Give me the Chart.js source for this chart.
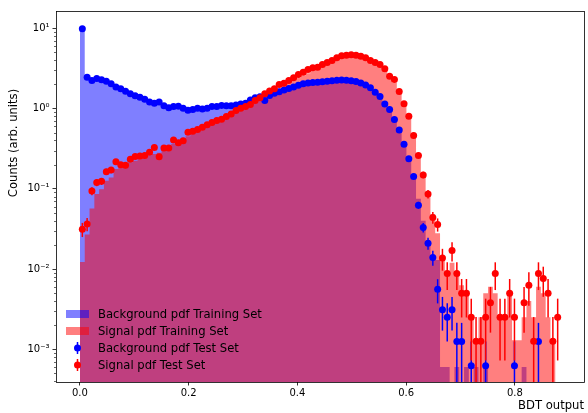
<!DOCTYPE html>
<html>
<head>
<meta charset="utf-8">
<title>BDT output</title>
<script src="https://cdn.jsdelivr.net/npm/chart.js@4/dist/chart.umd.min.js"></script>
<style>
  html, body { margin: 0; padding: 0; background: #ffffff; }
  #wrap { width: 588px; height: 413px; }
</style>
</head>
<body>
<div id="wrap"><canvas id="myChart" width="588" height="413"></canvas></div>
<script>
'use strict'

// *********GLOBAL DATA***********

// histogram binning of the BDT output
const binLow = 0.0;
const binWidth = 0.00883;

// training set histograms (filled steps)
const bkgTrain = [
  9.8, 2.35, 2.25, 2.2, 2.15, 2.05, 1.95, 1.82, 1.72, 1.62,
  1.52, 1.44, 1.36, 1.29, 1.22, 1.17, 1.12, 1.07, 1.03, 1.0,
  0.98, 0.96, 0.94, 0.93, 0.93, 0.94, 0.95, 0.97, 0.99, 1.0,
  1.02, 1.04, 1.06, 1.09, 1.13, 1.18, 1.24, 1.3, 1.37, 1.43,
  1.5, 1.57, 1.64, 1.72, 1.8, 1.88, 1.96, 2.02, 2.07, 2.1,
  2.13, 2.16, 2.19, 2.21, 2.22, 2.21, 2.18, 2.12, 2.03, 1.9,
  1.74, 1.55, 1.34, 1.12, 0.92, 0.72, 0.53, 0.37, 0.24, 0.145,
  0.075, 0.04, 0.022, 0.014, 0.013, 0.0006, 0.0006, 0, 0.0006, 0,
  0.0006, 0, 0.0006, 0, 0.0006, 0, 0, 0, 0, 0,
  0, 0, 0.0006, 0, 0, 0, 0, 0, 0, 0
];

const sigTrain = [
  0.0122, 0.027, 0.057, 0.086, 0.099, 0.126, 0.138, 0.176, 0.185, 0.204,
  0.213, 0.224, 0.246, 0.246, 0.259, 0.271, 0.282, 0.314, 0.326, 0.362,
  0.398, 0.42, 0.45, 0.48, 0.51, 0.55, 0.59, 0.63, 0.67, 0.71,
  0.76, 0.82, 0.88, 0.95, 1.02, 1.1, 1.18, 1.28, 1.4, 1.52,
  1.64, 1.78, 1.92, 2.07, 2.22, 2.4, 2.58, 2.76, 2.95, 3.13,
  3.33, 3.55, 3.78, 4.0, 4.25, 4.42, 4.5, 4.5, 4.4, 4.2,
  3.95, 3.7, 3.4, 3.0, 2.55, 2.1, 1.62, 1.15, 0.78, 0.48,
  0.27, 0.155, 0.085, 0.048, 0.028, 0.013, 0.0095, 0.012, 0.009, 0.0063,
  0.005, 0.0025, 0.0013, 0.0025, 0.005, 0.006, 0.005, 0.0025, 0.0025, 0.005,
  0.0013, 0.0013, 0.0025, 0.004, 0.0025, 0.006, 0.005, 0.0025, 0.0013, 0
];

// test set points (bin centres)
const bkgTest = [
  9.9, 2.46, 2.24, 2.37, 2.28, 2.19, 2.04, 1.85, 1.76, 1.64,
  1.53, 1.44, 1.38, 1.31, 1.21, 1.16, 1.21, 1.08, 1.02, 1.06,
  1.07, 1.01, 0.95, 0.97, 1.01, 0.99, 1.01, 1.06, 1.06, 1.09,
  1.08, 1.08, 1.11, 1.14, 1.16, 1.28, 1.36, 1.4, 1.26, 1.45,
  1.55, 1.62, 1.7, 1.78, 1.86, 1.95, 2.03, 2.08, 2.11, 2.12,
  2.15, 2.19, 2.22, 2.25, 2.27, 2.25, 2.22, 2.17, 2.08, 1.97,
  1.82, 1.6, 1.41, 1.14, 0.97, 0.73, 0.54, 0.36, 0.237, 0.142,
  0.0625, 0.033, 0.021, 0.0139, 0.0056, 0.0031, 0.0025, 0.0031, 0.00125, 0.00125,
  0, 0.000625, 0, 0, 0.000625, 0, 0, 0, 0, 0,
  0.000625, 0, 0, 0, 0, 0.00125, 0, 0, 0, 0
];

const sigTest = [
  0.0313, 0.0364, 0.094, 0.12, 0.124, 0.163, 0.171, 0.218, 0.2, 0.196,
  0.233, 0.253, 0.256, 0.259, 0.285, 0.328, 0.251, 0.323, 0.323, 0.406,
  0.376, 0.398, 0.505, 0.52, 0.547, 0.584, 0.63, 0.668, 0.708, 0.735,
  0.794, 0.858, 0.944, 1.01, 1.06, 1.12, 1.26, 1.36, 1.53, 1.65,
  1.76, 1.99, 2.07, 2.24, 2.42, 2.66, 2.84, 3.07, 3.22, 3.28,
  3.55, 3.76, 3.98, 4.3, 4.55, 4.63, 4.68, 4.63, 4.47, 4.3,
  3.98, 3.75, 3.55, 3.13, 2.53, 2.3, 1.63, 1.15, 0.8, 0.46,
  0.26, 0.149, 0.086, 0.044, 0.036, 0.0137, 0.0088, 0.017, 0.0088, 0.005,
  0.005, 0.0025, 0.00126, 0.00126, 0.0025, 0.0038, 0.0088, 0.0025, 0.0025, 0.005,
  0.0025, 0, 0.0038, 0.0063, 0.00126, 0.0088, 0.0076, 0.005, 0.00126, 0.0025
];

// weight of a single test event, error bar = sqrt(N) * weight
const bkgTestUnit = 6.25e-4;
const sigTestUnit = 1.26e-3;

// axis ticks
const xTicks = [0.0, 0.2, 0.4, 0.6, 0.8];
const xTickLabels = ['0.0', '0.2', '0.4', '0.6', '0.8'];
const yTicks = [1e-3, 1e-2, 1e-1, 1, 10];
const yTickLabels = ['10\u207B\u00B3', '10\u207B\u00B2', '10\u207B\u00B9', '10\u2070', '10\u00B9'];

const legendLabels = [
  'Background pdf Training Set',
  'Signal pdf Training Set',
  'Background pdf Test Set',
  'Signal pdf Test Set'
];

// empty bins are sent below the axis so the fill drops to the bottom
const FLOOR = 1e-6;

const BLUE_FILL = 'rgba(0, 0, 255, 0.5)';
const RED_FILL = 'rgba(255, 0, 0, 0.5)';
const LABEL_FONT = '11.6px "DejaVu Sans"';


// ********HELPER FUNCTIONS*********

// step outline: one point at each left bin edge plus the last right edge
function histPoints(values){
  let pts = [];
  for(let i = 0; i < values.length; i++){
    pts.push({x: binLow + i * binWidth, y: values[i] > 0 ? values[i] : FLOOR});
  }
  pts.push({x: binLow + values.length * binWidth, y: pts[pts.length - 1].y});
  return pts;
}

function testPoints(values){
  return values.map((v, i) => ({x: binLow + (i + 0.5) * binWidth, y: v > 0 ? v : null}));
}


// ********PLUGINS*********

// vertical sqrt(N) error bars under the test set markers
const errorBarPlugin = {
  id: 'errorBars',
  beforeDatasetDraw(chart, args){
    let ds = chart.data.datasets[args.index];
    if(!ds.errUnit){
      return;
    }
    let xs = chart.scales.x;
    let ys = chart.scales.y;
    let a = chart.chartArea;
    let ctx = chart.ctx;
    ctx.save();
    ctx.beginPath();
    ctx.rect(a.left, a.top, a.right - a.left, a.bottom - a.top);
    ctx.clip();
    ctx.strokeStyle = ds.pointBackgroundColor;
    ctx.lineWidth = 1.5;
    ds.data.forEach(p => {
      if(p.y === null){
        return;
      }
      let err = Math.sqrt(p.y * ds.errUnit);
      let lo = p.y - err;
      let px = xs.getPixelForValue(p.x);
      let yTop = ys.getPixelForValue(p.y + err);
      let yBot = lo > 1e-9 ? ys.getPixelForValue(lo) : a.bottom + 5;
      ctx.beginPath();
      ctx.moveTo(px, yTop);
      ctx.lineTo(px, yBot);
      ctx.stroke();
    });
    ctx.restore();
  }
};

// frame, minor log ticks, y label and the legend inside the axes
const decorPlugin = {
  id: 'decor',
  afterDraw(chart){
    let ctx = chart.ctx;
    let a = chart.chartArea;
    let ys = chart.scales.y;
    ctx.save();

    // axes frame
    ctx.strokeStyle = '#000000';
    ctx.lineWidth = 0.8;
    ctx.strokeRect(a.left + 0.5, a.top + 0.5, a.right - a.left, a.bottom - a.top);

    // minor ticks on the log axis
    ctx.beginPath();
    for(let d = -4; d <= 1; d++){
      for(let m = 2; m <= 9; m++){
        let v = m * Math.pow(10, d);
        if(v < ys.min || v > ys.max){
          continue;
        }
        let py = Math.round(ys.getPixelForValue(v)) + 0.5;
        ctx.moveTo(a.left - 2, py);
        ctx.lineTo(a.left, py);
      }
    }
    ctx.lineWidth = 0.6;
    ctx.stroke();

    // y axis label
    ctx.fillStyle = '#000000';
    ctx.font = LABEL_FONT;
    ctx.textAlign = 'center';
    ctx.textBaseline = 'middle';
    ctx.translate(14, a.top + 132);
    ctx.rotate(-Math.PI / 2);
    ctx.fillText('Counts (arb. units)', 0, 0);
    ctx.restore();

    // legend
    ctx.save();
    let lx = a.left + 10;
    let rowY = [a.bottom - 68, a.bottom - 51, a.bottom - 34, a.bottom - 17];
    let kinds = [['patch', BLUE_FILL], ['patch', RED_FILL], ['marker', 'blue'], ['marker', 'red']];
    for(let i = 0; i < 4; i++){
      let y = rowY[i];
      if(kinds[i][0] === 'patch'){
        ctx.fillStyle = kinds[i][1];
        ctx.fillRect(lx, y - 4, 23, 8);
      } else {
        ctx.strokeStyle = kinds[i][1];
        ctx.fillStyle = kinds[i][1];
        ctx.lineWidth = 1.5;
        ctx.beginPath();
        ctx.moveTo(lx + 11.5, y - 6);
        ctx.lineTo(lx + 11.5, y + 6);
        ctx.stroke();
        ctx.beginPath();
        ctx.arc(lx + 11.5, y, 3.5, 0, Math.PI * 2);
        ctx.fill();
      }
      ctx.fillStyle = '#000000';
      ctx.font = LABEL_FONT;
      ctx.textAlign = 'left';
      ctx.textBaseline = 'middle';
      ctx.fillText(legendLabels[i], lx + 32, y + 0.5);
    }
    ctx.restore();
  }
};


//************CHART RENDER****************

Chart.defaults.font.family = '"DejaVu Sans", sans-serif';
Chart.defaults.color = '#000000';

let ctx = document.getElementById('myChart');

let histChartObj = {
  type: 'line',
  data: {
    datasets: [
      {
        label: legendLabels[3],
        data: testPoints(sigTest),
        errUnit: sigTestUnit,
        showLine: false,
        pointRadius: 3.5,
        pointBackgroundColor: 'red',
        pointBorderWidth: 0,
        pointBorderColor: 'red',
        order: 0
      },
      {
        label: legendLabels[2],
        data: testPoints(bkgTest),
        errUnit: bkgTestUnit,
        showLine: false,
        pointRadius: 3.5,
        pointBackgroundColor: 'blue',
        pointBorderWidth: 0,
        pointBorderColor: 'blue',
        order: 1
      },
      {
        label: legendLabels[1],
        data: histPoints(sigTrain),
        stepped: 'before',
        fill: 'start',
        backgroundColor: RED_FILL,
        borderColor: 'rgba(0,0,0,0)',
        borderWidth: 0,
        pointRadius: 0,
        order: 2
      },
      {
        label: legendLabels[0],
        data: histPoints(bkgTrain),
        stepped: 'before',
        fill: 'start',
        backgroundColor: BLUE_FILL,
        borderColor: 'rgba(0,0,0,0)',
        borderWidth: 0,
        pointRadius: 0,
        order: 3
      }
    ]
  },
  options: {
    responsive: false,
    animation: false,
    layout: {
      padding: {top: 11, right: 0, bottom: 0, left: 0}
    },
    plugins: {
      legend: {display: false},
      tooltip: {enabled: false}
    },
    scales: {
      x: {
        type: 'linear',
        min: -0.044,
        max: 0.927,
        afterBuildTicks: function(scale){
          scale.ticks = xTicks.map(v => ({value: v}));
        },
        afterFit: function(scale){
          scale.height = 31;
        },
        ticks: {
          autoSkip: false,
          maxRotation: 0,
          padding: 1.5,
          font: {size: 10},
          color: '#000000',
          callback: function(value, index){
            return xTickLabels[index];
          }
        },
        grid: {
          display: true,
          drawOnChartArea: false,
          drawTicks: true,
          tickLength: 3.5,
          tickWidth: 0.8,
          tickColor: '#000000'
        },
        border: {display: false},
        title: {
          display: true,
          text: 'BDT output',
          align: 'end',
          font: {size: 11.6},
          color: '#000000',
          padding: {top: 0, bottom: 0}
        }
      },
      y: {
        type: 'logarithmic',
        min: 3.91e-4,
        max: 16.43,
        afterBuildTicks: function(scale){
          scale.ticks = yTicks.map(v => ({value: v}));
        },
        afterFit: function(scale){
          scale.width = 56;
        },
        ticks: {
          autoSkip: false,
          padding: 3,
          font: {size: 10},
          color: '#000000',
          callback: function(value, index){
            return yTickLabels[index];
          }
        },
        grid: {
          display: true,
          drawOnChartArea: false,
          drawTicks: true,
          tickLength: 3.5,
          tickWidth: 0.8,
          tickColor: '#000000'
        },
        border: {display: false}
      }
    }
  },
  plugins: [errorBarPlugin, decorPlugin]
};

new Chart(ctx, histChartObj);
</script>
</body>
</html>
